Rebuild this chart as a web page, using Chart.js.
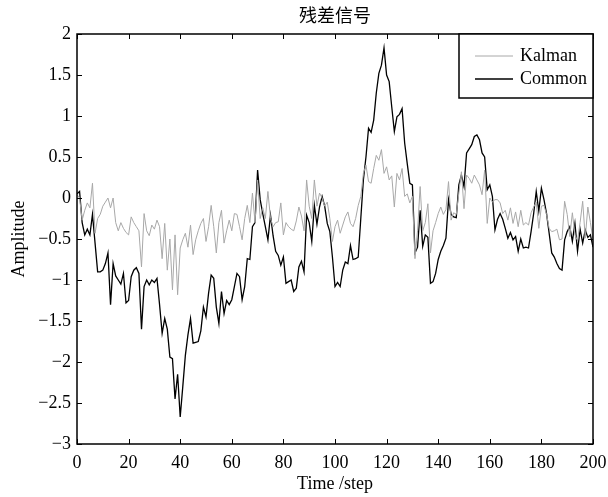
<!DOCTYPE html>
<html>
<head>
<meta charset="utf-8">
<script src="https://cdn.jsdelivr.net/npm/chart.js@4"></script>
<style>
  html, body { margin: 0; padding: 0; background: #fff; }
  #wrap { width: 608px; height: 497px; }
</style>
</head>
<body>
<div id="wrap"><canvas id="residualChart" width="608" height="497"></canvas></div>
<script>
// residual signal, values (step 0..200)
const chartTitle = '残差信号';
const seriesNames = ['Kalman', 'Common'];
const xTicks = [0, 20, 40, 60, 80, 100, 120, 140, 160, 180, 200];
const yTicks = [-3, -2.5, -2, -1.5, -1, -0.5, 0, 0.5, 1, 1.5, 2];

const kalman = [
  0.04, 0.0, -0.27, -0.15, -0.06, -0.12, 0.18, -0.43, -0.25, -0.2,
  -0.1, -0.05, 0.0, -0.12, 0.0, -0.3, -0.4, -0.3, -0.37, -0.42,
  -0.45, -0.23, -0.3, -0.35, -0.4, -0.84, -0.19, -0.4, -0.46, -0.33,
  -0.38, -0.27, -0.35, -0.74, -0.31, -0.88, -0.5, -1.12, -0.45, -1.18,
  -0.61, -0.51, -0.43, -0.6, -0.33, -0.69, -0.51, -0.4, -0.31, -0.25,
  -0.53, -0.35, -0.09, -0.35, -0.67, -0.3, -0.15, -0.55, -0.4, -0.27,
  -0.4, -0.19, -0.2, -0.35, -0.51, -0.25, -0.09, -0.3, 0.06, -0.3,
  0.22, -0.25, -0.12, -0.25, 0.08, -0.25, -0.35, -0.3, -0.29, -0.06,
  -0.45, -0.3, -0.35, -0.38, -0.4, -0.28, -0.11, -0.22, -0.4, 0.22,
  -0.1, -0.25, 0.22, -0.1, 0.06, 0.0, -0.1, -0.05, -0.25, -0.53,
  -0.35, -0.27, -0.43, -0.33, -0.23, -0.17, -0.31, -0.35, -0.25, -0.09,
  0.02, 0.3, 0.4, 0.2, 0.18, 0.36, 0.52, 0.46, 0.59, 0.3,
  0.38, 0.22, 0.27, -0.11, 0.3, 0.22, 0.36, 0.02, 0.05, -0.06,
  0.02, -0.74, -0.4, 0.14, -0.4, -0.3, -0.07, -0.67, -0.4, -0.3,
  -0.19, -0.11, -0.2, -0.14, 0.2, -0.27, -0.18, -0.2, 0.06, 0.32,
  -0.13, 0.28, 0.24, 0.18, 0.28, 0.22, 0.16, 0.04, 0.34, -0.31,
  0.0, -0.05, -0.02, -0.02, -0.06, -0.19, -0.15, -0.27, -0.12, -0.31,
  -0.17, -0.35, -0.15, -0.33, -0.3, -0.33, -0.18, -0.11, -0.05, -0.37,
  -0.1, -0.09, -0.2, -0.37, -0.41, -0.4, -0.38, -0.51, -0.5, -0.04,
  -0.2, -0.47, -0.18, -0.45, -0.52, -0.3, -0.04, -0.49, -0.11, -0.3,
  -0.51
];

const common = [
  0.05, 0.08, -0.3, -0.45, -0.38, -0.45, -0.2, -0.55, -0.9, -0.9,
  -0.88, -0.8, -0.67, -1.3, -0.8, -0.95, -1.0, -1.05, -0.92, -1.28,
  -1.25, -0.96, -0.88, -0.85, -0.92, -1.6, -1.08, -1.0, -1.06, -1.0,
  -1.03, -0.98, -1.3, -1.65, -1.47, -1.6, -1.94, -1.96, -2.45, -2.15,
  -2.67, -2.3, -1.92, -1.67, -1.47, -1.77, -1.76, -1.75, -1.62, -1.33,
  -1.45, -1.16, -0.94, -0.98, -1.33, -1.53, -1.14, -1.41, -1.25, -1.3,
  -1.24, -1.08, -0.92, -0.96, -1.24, -1.08, -0.74, -0.75, -0.35, -0.3,
  0.34, -0.02, -0.19, -0.35, -0.51, -0.21, -0.46, -0.65, -0.7, -0.82,
  -0.72, -1.04, -1.02, -1.0, -1.14, -1.1, -0.84, -0.77, -0.9, -0.21,
  -0.3, -0.53, -0.09, -0.32, -0.11, 0.02, -0.1, -0.31, -0.41, -0.72,
  -1.08, -1.03, -1.08, -0.88, -0.78, -0.8, -0.58, -0.75, -0.74, -0.72,
  -0.25, 0.22, 0.5, 0.85, 0.8, 0.95, 1.28, 1.52, 1.62, 1.83,
  1.5, 1.42, 1.11, 0.81, 0.99, 1.02, 1.09, 0.67, 0.42, 0.18,
  0.16, -0.67, -0.6, -0.15, -0.59, -0.45, -0.48, -1.04, -1.02, -0.92,
  -0.75, -0.65, -0.58, -0.49, -0.02, -0.2, -0.23, -0.24, 0.16, 0.28,
  0.14, 0.55, 0.6, 0.65, 0.75, 0.77, 0.71, 0.55, 0.5, 0.1,
  0.16, 0.02, -0.39, -0.26, -0.19, -0.26, -0.37, -0.49, -0.42, -0.51,
  -0.47, -0.65, -0.5, -0.61, -0.6, -0.61, -0.41, -0.19, 0.08, -0.16,
  0.12, -0.02, -0.19, -0.43, -0.67, -0.72, -0.8, -0.86, -0.88, -0.51,
  -0.41, -0.35, -0.53, -0.31, -0.65, -0.38, -0.55, -0.39, -0.48, -0.45,
  -0.6
];

const serif = "'Liberation Serif', 'Times New Roman', 'Noto Sans CJK SC', serif";
const minus = v => String(v).replace('-', '\u2212');

// box, inward ticks, title and legend drawn like the MATLAB figure
const framePlugin = {
  id: 'frame',
  afterDraw(chart) {
    const ctx = chart.ctx;
    const a = chart.chartArea;
    const xs = chart.scales.x, ys = chart.scales.y;
    ctx.save();
    ctx.strokeStyle = '#000';
    ctx.lineWidth = 1;
    ctx.beginPath();
    xTicks.forEach(t => {
      const px = Math.round(xs.getPixelForValue(t)) + 0.5;
      ctx.moveTo(px, a.bottom); ctx.lineTo(px, a.bottom - 5);
      ctx.moveTo(px, a.top); ctx.lineTo(px, a.top + 5);
    });
    yTicks.forEach(t => {
      const py = Math.round(ys.getPixelForValue(t)) + 0.5;
      ctx.moveTo(a.left, py); ctx.lineTo(a.left + 5, py);
      ctx.moveTo(a.right, py); ctx.lineTo(a.right - 5, py);
    });
    ctx.stroke();
    ctx.lineWidth = 1.5;
    ctx.strokeRect(a.left, a.top, a.right - a.left, a.bottom - a.top);

    // title
    ctx.fillStyle = '#000';
    ctx.font = '18px ' + serif;
    ctx.textAlign = 'center';
    ctx.textBaseline = 'middle';
    ctx.fillText(chartTitle, (a.left + a.right) / 2, 17);

    // legend box top right
    ctx.font = '18px ' + serif;
    const lw = 134, lh = 64;
    const lx = a.right - lw, ly = a.top;
    ctx.fillStyle = '#fff';
    ctx.fillRect(lx, ly, lw, lh);
    ctx.lineWidth = 1.5;
    ctx.strokeRect(lx, ly, lw, lh);
    chart.data.datasets.forEach((ds, i) => {
      const yy = ly + 22 + i * 23;
      ctx.strokeStyle = ds.borderColor;
      ctx.lineWidth = ds.borderWidth;
      ctx.beginPath();
      ctx.moveTo(lx + 16, yy); ctx.lineTo(lx + 54, yy);
      ctx.stroke();
      ctx.fillStyle = '#000';
      ctx.textAlign = 'left';
      ctx.fillText(ds.label, lx + 61, yy);
    });
    ctx.restore();
  }
};

const ctx = document.getElementById('residualChart').getContext('2d');
new Chart(ctx, {
  type: 'line',
  data: {
    datasets: [
      {
        label: seriesNames[0],
        data: kalman.map((v, i) => ({ x: i, y: v })),
        borderColor: '#a8a8a8',
        borderWidth: 1,
        pointRadius: 0,
        tension: 0
      },
      {
        label: seriesNames[1],
        data: common.map((v, i) => ({ x: i, y: v })),
        borderColor: '#000000',
        borderWidth: 1.3,
        pointRadius: 0,
        tension: 0
      }
    ]
  },
  options: {
    responsive: false,
    animation: false,
    events: [],
    layout: { padding: { top: 34, right: 15, left: 0, bottom: 0 } },
    plugins: {
      legend: { display: false },
      title: { display: false },
      tooltip: { enabled: false }
    },
    scales: {
      x: {
        type: 'linear',
        min: 0,
        max: 200,
        afterFit: s => { s.height = 53; s.paddingLeft = 0; s.paddingRight = 0; },
        afterBuildTicks: s => { s.ticks = xTicks.map(v => ({ value: v })); },
        grid: { display: false, drawTicks: false },
        border: { display: false },
        ticks: { padding: 8, color: '#000', font: { family: serif, size: 18 }, maxRotation: 0, callback: v => minus(v) },
        title: { display: true, text: 'Time /step', color: '#000', font: { family: serif, size: 18 }, padding: { top: 0, bottom: 2 } }
      },
      y: {
        min: -3,
        max: 2,
        afterFit: s => { s.width = 77; s.paddingTop = 0; s.paddingBottom = 0; },
        afterBuildTicks: s => { s.ticks = yTicks.map(v => ({ value: v })); },
        grid: { display: false, drawTicks: false },
        border: { display: false },
        ticks: { padding: 6, color: '#000', font: { family: serif, size: 18 }, callback: v => minus(v) },
        title: { display: true, text: 'Amplitude', color: '#000', font: { family: serif, size: 18 }, padding: { top: 8, bottom: 6 } }
      }
    }
  },
  plugins: [framePlugin]
});
</script>
</body>
</html>
